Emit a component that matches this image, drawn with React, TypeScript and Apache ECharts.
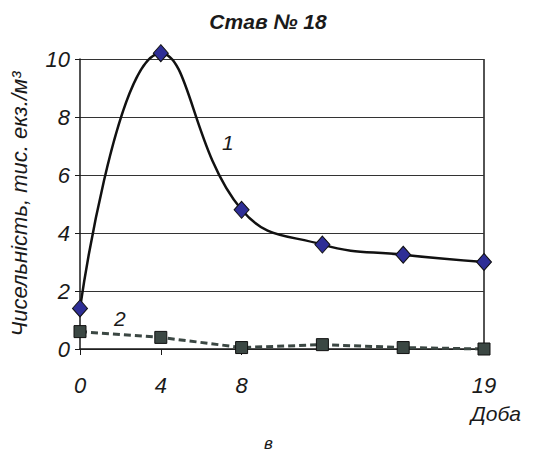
import React, { useEffect, useRef } from "react";
import * as echarts from "echarts";

const days = ["0", "4", "8", "12", "16", "19"];
const shownDayLabels = [0, 1, 2, 5];
const series1 = [1.4, 10.2, 4.8, 3.6, 3.25, 3.0];
const series2 = [0.6, 0.4, 0.05, 0.15, 0.05, 0.0];
const yTicks = { min: 0, max: 10, interval: 2 };

const FONT = "Liberation Sans, Arial, sans-serif";

export default function App() {
  const ref = useRef<HTMLDivElement>(null);
  useEffect(() => {
    document.body.style.margin = "0";
    document.body.style.overflow = "hidden";
    if (!ref.current) return;
    const chart = echarts.init(ref.current, null, { renderer: "svg" });
    chart.setOption({
      animation: false,
      backgroundColor: "#ffffff",
      title: {
        text: "Став № 18",
        left: "center",
        top: 6,
        textStyle: {
          fontFamily: FONT,
          fontStyle: "italic",
          fontWeight: "bold",
          fontSize: 21,
          color: "#1a1a1a",
        },
      },
      grid: { left: 73, right: 52, top: 59, bottom: 104 },
      xAxis: {
        type: "category",
        data: days,
        boundaryGap: false,
        axisLine: { lineStyle: { color: "#1a1a1a", width: 1.5 } },
        axisTick: { show: true, length: 6, lineStyle: { color: "#1a1a1a" } },
        axisLabel: {
          interval: (i: number) => shownDayLabels.includes(i),
          fontFamily: FONT,
          fontStyle: "italic",
          fontSize: 22,
          color: "#1a1a1a",
          margin: 25,
        },
        splitLine: { show: false },
      },
      yAxis: {
        type: "value",
        min: yTicks.min,
        max: yTicks.max,
        interval: yTicks.interval,
        name: "Чисельність, тис. екз./м³",
        nameLocation: "middle",
        nameGap: 50,
        nameTextStyle: {
          fontFamily: FONT,
          fontStyle: "italic",
          fontSize: 22,
          color: "#1a1a1a",
        },
        axisLine: { show: true, lineStyle: { color: "#1a1a1a", width: 1.5 } },
        axisTick: { show: true, length: 5, lineStyle: { color: "#1a1a1a" } },
        axisLabel: {
          fontFamily: FONT,
          fontStyle: "italic",
          fontSize: 22,
          color: "#1a1a1a",
          margin: 10,
        },
        splitLine: { show: true, lineStyle: { color: "#333333", width: 1.2 } },
      },
      graphic: [
        {
          type: "line",
          shape: { x1: 484, y1: 59, x2: 484, y2: 349 },
          style: { stroke: "#1a1a1a", lineWidth: 1.5 },
        },
        {
          type: "text",
          left: 222,
          top: 132,
          style: { text: "1", font: `italic 21px ${FONT}`, fill: "#1a1a1a" },
        },
        {
          type: "text",
          left: 114,
          top: 308,
          style: { text: "2", font: `italic 21px ${FONT}`, fill: "#1a1a1a" },
        },
        {
          type: "text",
          left: 471,
          top: 403,
          style: { text: "Доба", font: `italic 21px ${FONT}`, fill: "#1a1a1a" },
        },
        {
          type: "text",
          left: 264,
          top: 435,
          style: { text: "в", font: `italic 17px ${FONT}`, fill: "#1a1a1a" },
        },
      ],
      series: [
        {
          name: "2",
          type: "line",
          data: series2,
          clip: false,
          symbol: "rect",
          symbolSize: 12,
          lineStyle: { color: "#3b4743", width: 3, type: [7, 4] },
          itemStyle: { color: "#3b4743", borderColor: "#111111", borderWidth: 1 },
          z: 3,
        },
        {
          name: "1",
          type: "line",
          data: series1,
          clip: false,
          smooth: 0.45,
          symbol: "diamond",
          symbolSize: [15, 17],
          lineStyle: { color: "#111111", width: 2.5 },
          itemStyle: { color: "#2e2e96", borderColor: "#111111", borderWidth: 1 },
          z: 4,
        },
      ],
    });
    return () => chart.dispose();
  }, []);
  return <div ref={ref} style={{ width: 536, height: 453 }} />;
}
